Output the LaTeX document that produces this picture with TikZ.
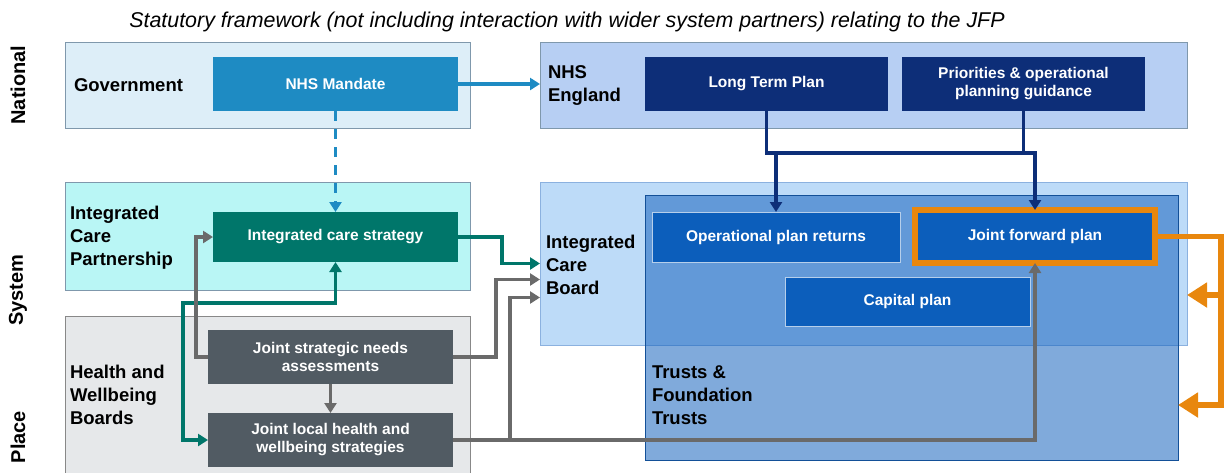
\documentclass[tikz,border=0pt]{standalone}
\usepackage{fontspec}
\setmainfont{Liberation Sans}
\usetikzlibrary{arrows.meta}

\definecolor{govfill}{HTML}{DDEEF8}
\definecolor{mandblue}{HTML}{1E8BC3}
\definecolor{nhsefill}{HTML}{B7CFF3}
\definecolor{navy}{HTML}{0D2E78}
\definecolor{icpfill}{HTML}{B9F6F5}
\definecolor{tealbox}{HTML}{00766A}
\definecolor{hwbfill}{HTML}{E6E8EA}
\definecolor{slate}{HTML}{515B63}
\definecolor{icbfill}{HTML}{BDDBF8}
\definecolor{trustblue}{HTML}{1864BE}
\definecolor{planblue}{HTML}{0C5EBB}
\definecolor{jfporange}{HTML}{E8870E}
\definecolor{arrgray}{HTML}{6A6A6A}
\definecolor{panelline}{HTML}{7F98AC}

\begin{document}
\begin{tikzpicture}[x=1pt, y=-1pt,
  every node/.style={inner sep=0pt, outer sep=0pt},
  panel/.style={draw=panelline, line width=1pt},
  box/.style={text=white, align=center, font=\fontsize{15.5}{18}\selectfont\bfseries, minimum width=245, minimum height=54},
  plan/.style={box, fill=planblue, draw=white!70!planblue, line width=0.8pt},
  lbl/.style={anchor=west, align=left, font=\fontsize{18.5}{23}\selectfont\bfseries},
  side/.style={rotate=90, font=\fontsize{20}{24}\selectfont\bfseries},
  conn/.style={line width=3.2pt, -{Triangle[length=10pt,width=12pt]}}]
\useasboundingbox (0,0) rectangle (1230,472);

\node[font=\fontsize{21.4}{25}\selectfont\itshape] (title) at (567,22) {Statutory framework (not including interaction with wider system partners) relating to the JFP};

\node[side] (national) at (18,85) {National};
\node[side] (system) at (18,290) {System};
\node[side] (place) at (18,437) {Place};

\node[panel, fill=govfill, minimum width=405, minimum height=86] (gov) at (267.5,85) {};
\node[panel, fill=nhsefill, minimum width=647, minimum height=86] (nhse) at (863.5,85) {};
\node[panel, fill=icpfill, minimum width=405, minimum height=108] (icp) at (267.5,236) {};
\node[panel, draw=arrgray!80, fill=hwbfill, minimum width=405, minimum height=164] (hwb) at (267.5,398) {};
\node[panel, draw=trustblue!50, fill=icbfill, minimum width=647, minimum height=163] (icb) at (863.5,263.5) {};
\node[draw=trustblue!80!black, line width=1pt, fill=trustblue, fill opacity=0.55, minimum width=533, minimum height=265] (trusts) at (911.5,327.5) {};

\node[lbl] (govlbl) at (74,85) {Government};
\node[lbl] (nhselbl) at (548,85) {NHS\\England};
\node[lbl] (icplbl) at (70,238) {Integrated\\Care\\Partnership};
\node[lbl] (hwblbl) at (70,395) {Health and\\Wellbeing\\Boards};
\node[lbl] (icblbl) at (546,265) {Integrated\\Care\\Board};
\node[lbl] (trustlbl) at (652,395) {Trusts \&\\Foundation\\Trusts};

\node[box, fill=mandblue] (mandate) at (335.5,84) {NHS Mandate};
\node[box, fill=navy, minimum width=243] (ltp) at (766.5,84) {Long Term Plan};
\node[box, fill=navy, minimum width=243] (prio) at (1023.5,84) {Priorities \& operational\\planning guidance};
\node[box, fill=tealbox, minimum height=50] (ics) at (335.5,237) {Integrated care strategy};
\node[box, fill=slate] (jsna) at (330.5,357) {Joint strategic needs\\assessments};
\node[box, fill=slate] (jlhws) at (330.5,440) {Joint local health and\\wellbeing strategies};
\node[plan, minimum width=248, minimum height=50] (opr) at (776,237) {Operational plan returns};
\node[plan, draw=jfporange, line width=5.5pt, minimum width=240, minimum height=53] (jfp) at (1035,236.5) {Joint forward plan};
\node[plan, minimum height=49] (capital) at (907.5,301.5) {Capital plan};

\coordinate (icbinA) at ([yshift=-16pt]icb.west);
\coordinate (icbinB) at ([yshift=-34pt]icb.west);
\coordinate (icbinR) at ([yshift=-31.5pt]icb.east);
\coordinate (trin) at ([yshift=-77.5pt]trusts.east);
\coordinate (obus) at (1221,236.5);

\draw[conn, mandblue] (mandate.east) -- (mandate.east -| nhse.west);
\draw[conn, mandblue, dash pattern=on 10pt off 8pt] (mandate.south) -- (ics.north);
\draw[conn, navy] (ltp.south) -- ++(0,42) -| (jfp.north);
\draw[conn, navy] (prio.south) -- ++(0,42) -| (opr.north);
\draw[conn, tealbox] (ics.east) -- ++(44,0) |- (icb.west);
\draw[conn, tealbox, {Triangle[length=10pt,width=12pt]}-{Triangle[length=10pt,width=12pt]}] (jlhws.west) -- ++(-25,0) |- ([yshift=-41pt]ics.south) -- (ics.south);
\draw[conn, arrgray] (jsna.west) -- ++(-12,0) |- (ics.west);
\draw[conn, arrgray] (jsna.south) -- (jlhws.north);
\draw[conn, arrgray] (jsna.east) -- ++(43,0) |- (icbinA);
\draw[conn, arrgray] (jlhws.east) -- ++(57,0) |- (icbinB);
\draw[conn, arrgray] (jlhws.east) -| (jfp.south);
\draw[line width=5.5pt, jfporange, -{Triangle[length=20pt,width=24pt]}] (jfp.east) -- (obus) |- (trin);
\draw[line width=5.5pt, jfporange, -{Triangle[length=20pt,width=24pt]}] (icbinR -| obus) -- (icbinR);
\end{tikzpicture}
\end{document}
